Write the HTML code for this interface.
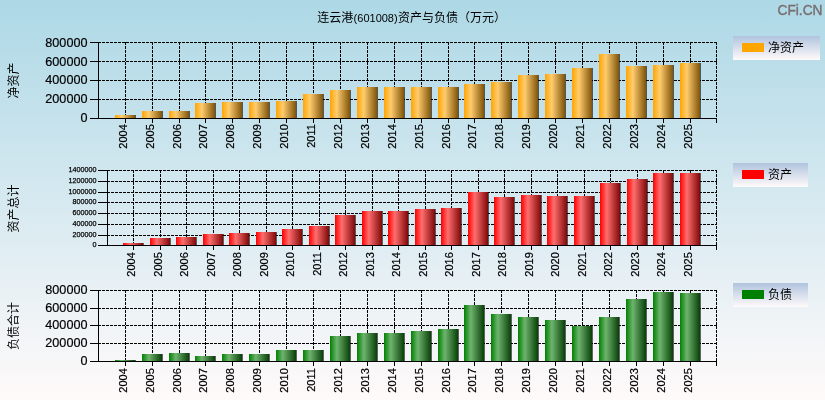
<!DOCTYPE html>
<html lang="zh-CN"><head><meta charset="utf-8"><title>连云港(601008)资产与负债（万元）</title>
<style>html,body{margin:0;padding:0;background:#fff;}body{width:825px;height:400px;overflow:hidden;}svg{display:block;}text{font-family:"Liberation Sans", "Noto Sans CJK SC", sans-serif;fill:#000;}.s{stroke:#000;stroke-width:0.25;}.t{stroke:#000;stroke-width:0.2;}.g line{stroke:#000;stroke-width:1;stroke-dasharray:3 1;shape-rendering:crispEdges;}.a line{stroke:#000;stroke-width:1;shape-rendering:crispEdges;}.b rect{shape-rendering:crispEdges;}</style></head><body>
<svg width="825" height="400" viewBox="0 0 825 400">
<defs>
<linearGradient id="bg" x1="0" y1="0" x2="0" y2="1"><stop offset="0" stop-color="#add8e6"/><stop offset="1" stop-color="#fffafa"/></linearGradient>
<linearGradient id="lg" x1="0" y1="0" x2="0" y2="1"><stop offset="0" stop-color="#b0c4de"/><stop offset="1" stop-color="#fffafa"/></linearGradient>
<linearGradient id="gO" x1="0" y1="0" x2="1" y2="0"><stop offset="0" stop-color="#ffa500"/><stop offset="0.34" stop-color="#ffcc6e"/><stop offset="1" stop-color="#80540a"/></linearGradient>
<linearGradient id="gR" x1="0" y1="0" x2="1" y2="0"><stop offset="0" stop-color="#ff0000"/><stop offset="0.34" stop-color="#ff6e6e"/><stop offset="1" stop-color="#800808"/></linearGradient>
<linearGradient id="gG" x1="0" y1="0" x2="1" y2="0"><stop offset="0" stop-color="#008000"/><stop offset="0.34" stop-color="#6eb46e"/><stop offset="1" stop-color="#084008"/></linearGradient>
</defs>
<rect x="0" y="0" width="825" height="400" fill="url(#bg)"/>
<text x="317.3" y="22.3" font-size="12">连云港<tspan font-size="11" dx="0.3">(601008)</tspan><tspan dx="0.3">资产与负债（万元）</tspan></text>
<text x="822.5" y="15" font-size="15.5" text-anchor="end" textLength="45" lengthAdjust="spacingAndGlyphs" style="fill:#787070;stroke:#787070;stroke-width:0.45">CFi.CN</text>
<g class="g">
<line x1="98" y1="99.5" x2="717" y2="99.5"/>
<line x1="98" y1="80.5" x2="717" y2="80.5"/>
<line x1="98" y1="61.5" x2="717" y2="61.5"/>
<line x1="98" y1="42.5" x2="717" y2="42.5"/>
<line x1="125.5" y1="42" x2="125.5" y2="118"/>
<line x1="152.5" y1="42" x2="152.5" y2="118"/>
<line x1="179.5" y1="42" x2="179.5" y2="118"/>
<line x1="205.5" y1="42" x2="205.5" y2="118"/>
<line x1="232.5" y1="42" x2="232.5" y2="118"/>
<line x1="259.5" y1="42" x2="259.5" y2="118"/>
<line x1="286.5" y1="42" x2="286.5" y2="118"/>
<line x1="313.5" y1="42" x2="313.5" y2="118"/>
<line x1="340.5" y1="42" x2="340.5" y2="118"/>
<line x1="367.5" y1="42" x2="367.5" y2="118"/>
<line x1="394.5" y1="42" x2="394.5" y2="118"/>
<line x1="421.5" y1="42" x2="421.5" y2="118"/>
<line x1="448.5" y1="42" x2="448.5" y2="118"/>
<line x1="474.5" y1="42" x2="474.5" y2="118"/>
<line x1="501.5" y1="42" x2="501.5" y2="118"/>
<line x1="528.5" y1="42" x2="528.5" y2="118"/>
<line x1="555.5" y1="42" x2="555.5" y2="118"/>
<line x1="582.5" y1="42" x2="582.5" y2="118"/>
<line x1="609.5" y1="42" x2="609.5" y2="118"/>
<line x1="636.5" y1="42" x2="636.5" y2="118"/>
<line x1="663.5" y1="42" x2="663.5" y2="118"/>
<line x1="690.5" y1="42" x2="690.5" y2="118"/>
<line x1="716.5" y1="42" x2="716.5" y2="118"/>
</g>
<g class="b">
<rect x="135" y="115" width="1" height="3" fill="#000" fill-opacity="0.6"/>
<rect x="115" y="115" width="20" height="3" fill="url(#gO)"/>
<rect x="162" y="111" width="1" height="7" fill="#000" fill-opacity="0.6"/>
<rect x="142" y="111" width="20" height="7" fill="url(#gO)"/>
<rect x="189" y="111" width="1" height="7" fill="#000" fill-opacity="0.6"/>
<rect x="169" y="111" width="20" height="7" fill="url(#gO)"/>
<rect x="215" y="103" width="1" height="15" fill="#000" fill-opacity="0.6"/>
<rect x="195" y="103" width="20" height="15" fill="url(#gO)"/>
<rect x="242" y="102" width="1" height="16" fill="#000" fill-opacity="0.6"/>
<rect x="222" y="102" width="20" height="16" fill="url(#gO)"/>
<rect x="269" y="102" width="1" height="16" fill="#000" fill-opacity="0.6"/>
<rect x="249" y="102" width="20" height="16" fill="url(#gO)"/>
<rect x="296" y="101" width="1" height="17" fill="#000" fill-opacity="0.6"/>
<rect x="276" y="101" width="20" height="17" fill="url(#gO)"/>
<rect x="323" y="94" width="1" height="24" fill="#000" fill-opacity="0.6"/>
<rect x="303" y="94" width="20" height="24" fill="url(#gO)"/>
<rect x="350" y="90" width="1" height="28" fill="#000" fill-opacity="0.6"/>
<rect x="330" y="90" width="20" height="28" fill="url(#gO)"/>
<rect x="377" y="87" width="1" height="31" fill="#000" fill-opacity="0.6"/>
<rect x="357" y="87" width="20" height="31" fill="url(#gO)"/>
<rect x="404" y="87" width="1" height="31" fill="#000" fill-opacity="0.6"/>
<rect x="384" y="87" width="20" height="31" fill="url(#gO)"/>
<rect x="431" y="87" width="1" height="31" fill="#000" fill-opacity="0.6"/>
<rect x="411" y="87" width="20" height="31" fill="url(#gO)"/>
<rect x="458" y="87" width="1" height="31" fill="#000" fill-opacity="0.6"/>
<rect x="438" y="87" width="20" height="31" fill="url(#gO)"/>
<rect x="484" y="84" width="1" height="34" fill="#000" fill-opacity="0.6"/>
<rect x="464" y="84" width="20" height="34" fill="url(#gO)"/>
<rect x="511" y="82" width="1" height="36" fill="#000" fill-opacity="0.6"/>
<rect x="491" y="82" width="20" height="36" fill="url(#gO)"/>
<rect x="538" y="75" width="1" height="43" fill="#000" fill-opacity="0.6"/>
<rect x="518" y="75" width="20" height="43" fill="url(#gO)"/>
<rect x="565" y="74" width="1" height="44" fill="#000" fill-opacity="0.6"/>
<rect x="545" y="74" width="20" height="44" fill="url(#gO)"/>
<rect x="592" y="68" width="1" height="50" fill="#000" fill-opacity="0.6"/>
<rect x="572" y="68" width="20" height="50" fill="url(#gO)"/>
<rect x="619" y="54" width="1" height="64" fill="#000" fill-opacity="0.6"/>
<rect x="599" y="54" width="20" height="64" fill="url(#gO)"/>
<rect x="646" y="66" width="1" height="52" fill="#000" fill-opacity="0.6"/>
<rect x="626" y="66" width="20" height="52" fill="url(#gO)"/>
<rect x="673" y="65" width="1" height="53" fill="#000" fill-opacity="0.6"/>
<rect x="653" y="65" width="20" height="53" fill="url(#gO)"/>
<rect x="700" y="63" width="1" height="55" fill="#000" fill-opacity="0.6"/>
<rect x="680" y="63" width="20" height="55" fill="url(#gO)"/>
</g>
<g class="a">
<line x1="98.5" y1="42" x2="98.5" y2="119"/>
<line x1="90" y1="118.5" x2="717" y2="118.5"/>
<line x1="90" y1="118.5" x2="99" y2="118.5"/>
<line x1="90" y1="99.5" x2="99" y2="99.5"/>
<line x1="90" y1="80.5" x2="99" y2="80.5"/>
<line x1="90" y1="61.5" x2="99" y2="61.5"/>
<line x1="90" y1="42.5" x2="99" y2="42.5"/>
<line x1="125.5" y1="118" x2="125.5" y2="123"/>
<line x1="152.5" y1="118" x2="152.5" y2="123"/>
<line x1="179.5" y1="118" x2="179.5" y2="123"/>
<line x1="205.5" y1="118" x2="205.5" y2="123"/>
<line x1="232.5" y1="118" x2="232.5" y2="123"/>
<line x1="259.5" y1="118" x2="259.5" y2="123"/>
<line x1="286.5" y1="118" x2="286.5" y2="123"/>
<line x1="313.5" y1="118" x2="313.5" y2="123"/>
<line x1="340.5" y1="118" x2="340.5" y2="123"/>
<line x1="367.5" y1="118" x2="367.5" y2="123"/>
<line x1="394.5" y1="118" x2="394.5" y2="123"/>
<line x1="421.5" y1="118" x2="421.5" y2="123"/>
<line x1="448.5" y1="118" x2="448.5" y2="123"/>
<line x1="474.5" y1="118" x2="474.5" y2="123"/>
<line x1="501.5" y1="118" x2="501.5" y2="123"/>
<line x1="528.5" y1="118" x2="528.5" y2="123"/>
<line x1="555.5" y1="118" x2="555.5" y2="123"/>
<line x1="582.5" y1="118" x2="582.5" y2="123"/>
<line x1="609.5" y1="118" x2="609.5" y2="123"/>
<line x1="636.5" y1="118" x2="636.5" y2="123"/>
<line x1="663.5" y1="118" x2="663.5" y2="123"/>
<line x1="690.5" y1="118" x2="690.5" y2="123"/>
<line x1="716.5" y1="118" x2="716.5" y2="123"/>
</g>
<text class="t" x="87.5" y="121.7" font-size="13" text-anchor="end" textLength="7.0" lengthAdjust="spacingAndGlyphs">0</text>
<text class="t" x="87.5" y="103.0" font-size="13" text-anchor="end" textLength="42.2" lengthAdjust="spacingAndGlyphs">200000</text>
<text class="t" x="87.5" y="84.2" font-size="13" text-anchor="end" textLength="42.2" lengthAdjust="spacingAndGlyphs">400000</text>
<text class="t" x="87.5" y="65.5" font-size="13" text-anchor="end" textLength="42.2" lengthAdjust="spacingAndGlyphs">600000</text>
<text class="t" x="87.5" y="46.7" font-size="13" text-anchor="end" textLength="42.2" lengthAdjust="spacingAndGlyphs">800000</text>
<text class="t" transform="translate(127.1,124.2) rotate(-90)" font-size="11" text-anchor="end">2004</text>
<text class="t" transform="translate(154.1,124.2) rotate(-90)" font-size="11" text-anchor="end">2005</text>
<text class="t" transform="translate(181.1,124.2) rotate(-90)" font-size="11" text-anchor="end">2006</text>
<text class="t" transform="translate(207.1,124.2) rotate(-90)" font-size="11" text-anchor="end">2007</text>
<text class="t" transform="translate(234.1,124.2) rotate(-90)" font-size="11" text-anchor="end">2008</text>
<text class="t" transform="translate(261.1,124.2) rotate(-90)" font-size="11" text-anchor="end">2009</text>
<text class="t" transform="translate(288.1,124.2) rotate(-90)" font-size="11" text-anchor="end">2010</text>
<text class="t" transform="translate(315.1,124.2) rotate(-90)" font-size="11" text-anchor="end">2011</text>
<text class="t" transform="translate(342.1,124.2) rotate(-90)" font-size="11" text-anchor="end">2012</text>
<text class="t" transform="translate(369.1,124.2) rotate(-90)" font-size="11" text-anchor="end">2013</text>
<text class="t" transform="translate(396.1,124.2) rotate(-90)" font-size="11" text-anchor="end">2014</text>
<text class="t" transform="translate(423.1,124.2) rotate(-90)" font-size="11" text-anchor="end">2015</text>
<text class="t" transform="translate(450.1,124.2) rotate(-90)" font-size="11" text-anchor="end">2016</text>
<text class="t" transform="translate(476.1,124.2) rotate(-90)" font-size="11" text-anchor="end">2017</text>
<text class="t" transform="translate(503.1,124.2) rotate(-90)" font-size="11" text-anchor="end">2018</text>
<text class="t" transform="translate(530.1,124.2) rotate(-90)" font-size="11" text-anchor="end">2019</text>
<text class="t" transform="translate(557.1,124.2) rotate(-90)" font-size="11" text-anchor="end">2020</text>
<text class="t" transform="translate(584.1,124.2) rotate(-90)" font-size="11" text-anchor="end">2021</text>
<text class="t" transform="translate(611.1,124.2) rotate(-90)" font-size="11" text-anchor="end">2022</text>
<text class="t" transform="translate(638.1,124.2) rotate(-90)" font-size="11" text-anchor="end">2023</text>
<text class="t" transform="translate(665.1,124.2) rotate(-90)" font-size="11" text-anchor="end">2024</text>
<text class="t" transform="translate(692.1,124.2) rotate(-90)" font-size="11" text-anchor="end">2025</text>
<text transform="translate(17.5,80.5) rotate(-90)" font-size="12" text-anchor="middle">净资产</text>
<rect x="733" y="36" width="87" height="24" fill="url(#lg)"/>
<rect x="742" y="43" width="22" height="9" fill="#ffa500"/>
<text x="768" y="51.6" font-size="12">净资产</text>
<g class="g">
<line x1="107" y1="235.5" x2="717" y2="235.5"/>
<line x1="107" y1="224.5" x2="717" y2="224.5"/>
<line x1="107" y1="213.5" x2="717" y2="213.5"/>
<line x1="107" y1="202.5" x2="717" y2="202.5"/>
<line x1="107" y1="192.5" x2="717" y2="192.5"/>
<line x1="107" y1="181.5" x2="717" y2="181.5"/>
<line x1="107" y1="170.5" x2="717" y2="170.5"/>
<line x1="133.5" y1="170" x2="133.5" y2="245"/>
<line x1="160.5" y1="170" x2="160.5" y2="245"/>
<line x1="186.5" y1="170" x2="186.5" y2="245"/>
<line x1="213.5" y1="170" x2="213.5" y2="245"/>
<line x1="239.5" y1="170" x2="239.5" y2="245"/>
<line x1="266.5" y1="170" x2="266.5" y2="245"/>
<line x1="292.5" y1="170" x2="292.5" y2="245"/>
<line x1="319.5" y1="170" x2="319.5" y2="245"/>
<line x1="345.5" y1="170" x2="345.5" y2="245"/>
<line x1="372.5" y1="170" x2="372.5" y2="245"/>
<line x1="398.5" y1="170" x2="398.5" y2="245"/>
<line x1="425.5" y1="170" x2="425.5" y2="245"/>
<line x1="451.5" y1="170" x2="451.5" y2="245"/>
<line x1="478.5" y1="170" x2="478.5" y2="245"/>
<line x1="504.5" y1="170" x2="504.5" y2="245"/>
<line x1="531.5" y1="170" x2="531.5" y2="245"/>
<line x1="557.5" y1="170" x2="557.5" y2="245"/>
<line x1="584.5" y1="170" x2="584.5" y2="245"/>
<line x1="610.5" y1="170" x2="610.5" y2="245"/>
<line x1="637.5" y1="170" x2="637.5" y2="245"/>
<line x1="663.5" y1="170" x2="663.5" y2="245"/>
<line x1="690.5" y1="170" x2="690.5" y2="245"/>
<line x1="716.5" y1="170" x2="716.5" y2="245"/>
</g>
<g class="b">
<rect x="143" y="243" width="1" height="2" fill="#000" fill-opacity="0.6"/>
<rect x="123" y="243" width="20" height="2" fill="url(#gR)"/>
<rect x="170" y="238" width="1" height="7" fill="#000" fill-opacity="0.6"/>
<rect x="150" y="238" width="20" height="7" fill="url(#gR)"/>
<rect x="196" y="237" width="1" height="8" fill="#000" fill-opacity="0.6"/>
<rect x="176" y="237" width="20" height="8" fill="url(#gR)"/>
<rect x="223" y="234" width="1" height="11" fill="#000" fill-opacity="0.6"/>
<rect x="203" y="234" width="20" height="11" fill="url(#gR)"/>
<rect x="249" y="233" width="1" height="12" fill="#000" fill-opacity="0.6"/>
<rect x="229" y="233" width="20" height="12" fill="url(#gR)"/>
<rect x="276" y="232" width="1" height="13" fill="#000" fill-opacity="0.6"/>
<rect x="256" y="232" width="20" height="13" fill="url(#gR)"/>
<rect x="302" y="229" width="1" height="16" fill="#000" fill-opacity="0.6"/>
<rect x="282" y="229" width="20" height="16" fill="url(#gR)"/>
<rect x="329" y="226" width="1" height="19" fill="#000" fill-opacity="0.6"/>
<rect x="309" y="226" width="20" height="19" fill="url(#gR)"/>
<rect x="355" y="215" width="1" height="30" fill="#000" fill-opacity="0.6"/>
<rect x="335" y="215" width="20" height="30" fill="url(#gR)"/>
<rect x="382" y="211" width="1" height="34" fill="#000" fill-opacity="0.6"/>
<rect x="362" y="211" width="20" height="34" fill="url(#gR)"/>
<rect x="408" y="211" width="1" height="34" fill="#000" fill-opacity="0.6"/>
<rect x="388" y="211" width="20" height="34" fill="url(#gR)"/>
<rect x="435" y="209" width="1" height="36" fill="#000" fill-opacity="0.6"/>
<rect x="415" y="209" width="20" height="36" fill="url(#gR)"/>
<rect x="461" y="208" width="1" height="37" fill="#000" fill-opacity="0.6"/>
<rect x="441" y="208" width="20" height="37" fill="url(#gR)"/>
<rect x="488" y="192" width="1" height="53" fill="#000" fill-opacity="0.6"/>
<rect x="468" y="192" width="20" height="53" fill="url(#gR)"/>
<rect x="514" y="197" width="1" height="48" fill="#000" fill-opacity="0.6"/>
<rect x="494" y="197" width="20" height="48" fill="url(#gR)"/>
<rect x="541" y="195" width="1" height="50" fill="#000" fill-opacity="0.6"/>
<rect x="521" y="195" width="20" height="50" fill="url(#gR)"/>
<rect x="567" y="196" width="1" height="49" fill="#000" fill-opacity="0.6"/>
<rect x="547" y="196" width="20" height="49" fill="url(#gR)"/>
<rect x="594" y="196" width="1" height="49" fill="#000" fill-opacity="0.6"/>
<rect x="574" y="196" width="20" height="49" fill="url(#gR)"/>
<rect x="620" y="183" width="1" height="62" fill="#000" fill-opacity="0.6"/>
<rect x="600" y="183" width="20" height="62" fill="url(#gR)"/>
<rect x="647" y="179" width="1" height="66" fill="#000" fill-opacity="0.6"/>
<rect x="627" y="179" width="20" height="66" fill="url(#gR)"/>
<rect x="673" y="173" width="1" height="72" fill="#000" fill-opacity="0.6"/>
<rect x="653" y="173" width="20" height="72" fill="url(#gR)"/>
<rect x="700" y="173" width="1" height="72" fill="#000" fill-opacity="0.6"/>
<rect x="680" y="173" width="20" height="72" fill="url(#gR)"/>
</g>
<g class="a">
<line x1="107.5" y1="170" x2="107.5" y2="246"/>
<line x1="98" y1="245.5" x2="717" y2="245.5"/>
<line x1="98" y1="245.5" x2="108" y2="245.5"/>
<line x1="98" y1="235.5" x2="108" y2="235.5"/>
<line x1="98" y1="224.5" x2="108" y2="224.5"/>
<line x1="98" y1="213.5" x2="108" y2="213.5"/>
<line x1="98" y1="202.5" x2="108" y2="202.5"/>
<line x1="98" y1="192.5" x2="108" y2="192.5"/>
<line x1="98" y1="181.5" x2="108" y2="181.5"/>
<line x1="98" y1="170.5" x2="108" y2="170.5"/>
<line x1="133.5" y1="245" x2="133.5" y2="250"/>
<line x1="160.5" y1="245" x2="160.5" y2="250"/>
<line x1="186.5" y1="245" x2="186.5" y2="250"/>
<line x1="213.5" y1="245" x2="213.5" y2="250"/>
<line x1="239.5" y1="245" x2="239.5" y2="250"/>
<line x1="266.5" y1="245" x2="266.5" y2="250"/>
<line x1="292.5" y1="245" x2="292.5" y2="250"/>
<line x1="319.5" y1="245" x2="319.5" y2="250"/>
<line x1="345.5" y1="245" x2="345.5" y2="250"/>
<line x1="372.5" y1="245" x2="372.5" y2="250"/>
<line x1="398.5" y1="245" x2="398.5" y2="250"/>
<line x1="425.5" y1="245" x2="425.5" y2="250"/>
<line x1="451.5" y1="245" x2="451.5" y2="250"/>
<line x1="478.5" y1="245" x2="478.5" y2="250"/>
<line x1="504.5" y1="245" x2="504.5" y2="250"/>
<line x1="531.5" y1="245" x2="531.5" y2="250"/>
<line x1="557.5" y1="245" x2="557.5" y2="250"/>
<line x1="584.5" y1="245" x2="584.5" y2="250"/>
<line x1="610.5" y1="245" x2="610.5" y2="250"/>
<line x1="637.5" y1="245" x2="637.5" y2="250"/>
<line x1="663.5" y1="245" x2="663.5" y2="250"/>
<line x1="690.5" y1="245" x2="690.5" y2="250"/>
<line x1="716.5" y1="245" x2="716.5" y2="250"/>
</g>
<text class="s" x="96.5" y="246.5" font-size="8" text-anchor="end" textLength="4" lengthAdjust="spacingAndGlyphs">0</text>
<text class="s" x="96.5" y="236.5" font-size="8" text-anchor="end" textLength="24" lengthAdjust="spacingAndGlyphs">200000</text>
<text class="s" x="96.5" y="225.5" font-size="8" text-anchor="end" textLength="24" lengthAdjust="spacingAndGlyphs">400000</text>
<text class="s" x="96.5" y="214.5" font-size="8" text-anchor="end" textLength="24" lengthAdjust="spacingAndGlyphs">600000</text>
<text class="s" x="96.5" y="203.5" font-size="8" text-anchor="end" textLength="24" lengthAdjust="spacingAndGlyphs">800000</text>
<text class="s" x="96.5" y="193.5" font-size="8" text-anchor="end" textLength="28" lengthAdjust="spacingAndGlyphs">1000000</text>
<text class="s" x="96.5" y="182.5" font-size="8" text-anchor="end" textLength="28" lengthAdjust="spacingAndGlyphs">1200000</text>
<text class="s" x="96.5" y="171.5" font-size="8" text-anchor="end" textLength="28" lengthAdjust="spacingAndGlyphs">1400000</text>
<text class="t" transform="translate(135.1,252.2) rotate(-90)" font-size="11" text-anchor="end">2004</text>
<text class="t" transform="translate(162.1,252.2) rotate(-90)" font-size="11" text-anchor="end">2005</text>
<text class="t" transform="translate(188.1,252.2) rotate(-90)" font-size="11" text-anchor="end">2006</text>
<text class="t" transform="translate(215.1,252.2) rotate(-90)" font-size="11" text-anchor="end">2007</text>
<text class="t" transform="translate(241.1,252.2) rotate(-90)" font-size="11" text-anchor="end">2008</text>
<text class="t" transform="translate(268.1,252.2) rotate(-90)" font-size="11" text-anchor="end">2009</text>
<text class="t" transform="translate(294.1,252.2) rotate(-90)" font-size="11" text-anchor="end">2010</text>
<text class="t" transform="translate(321.1,252.2) rotate(-90)" font-size="11" text-anchor="end">2011</text>
<text class="t" transform="translate(347.1,252.2) rotate(-90)" font-size="11" text-anchor="end">2012</text>
<text class="t" transform="translate(374.1,252.2) rotate(-90)" font-size="11" text-anchor="end">2013</text>
<text class="t" transform="translate(400.1,252.2) rotate(-90)" font-size="11" text-anchor="end">2014</text>
<text class="t" transform="translate(427.1,252.2) rotate(-90)" font-size="11" text-anchor="end">2015</text>
<text class="t" transform="translate(453.1,252.2) rotate(-90)" font-size="11" text-anchor="end">2016</text>
<text class="t" transform="translate(480.1,252.2) rotate(-90)" font-size="11" text-anchor="end">2017</text>
<text class="t" transform="translate(506.1,252.2) rotate(-90)" font-size="11" text-anchor="end">2018</text>
<text class="t" transform="translate(533.1,252.2) rotate(-90)" font-size="11" text-anchor="end">2019</text>
<text class="t" transform="translate(559.1,252.2) rotate(-90)" font-size="11" text-anchor="end">2020</text>
<text class="t" transform="translate(586.1,252.2) rotate(-90)" font-size="11" text-anchor="end">2021</text>
<text class="t" transform="translate(612.1,252.2) rotate(-90)" font-size="11" text-anchor="end">2022</text>
<text class="t" transform="translate(639.1,252.2) rotate(-90)" font-size="11" text-anchor="end">2023</text>
<text class="t" transform="translate(665.1,252.2) rotate(-90)" font-size="11" text-anchor="end">2024</text>
<text class="t" transform="translate(692.1,252.2) rotate(-90)" font-size="11" text-anchor="end">2025</text>
<text transform="translate(17.5,208.5) rotate(-90)" font-size="12" text-anchor="middle">资产总计</text>
<rect x="733" y="163" width="75" height="24" fill="url(#lg)"/>
<rect x="742" y="170" width="22" height="9" fill="#ff0000"/>
<text x="768" y="178.6" font-size="12">资产</text>
<g class="g">
<line x1="98" y1="343.5" x2="717" y2="343.5"/>
<line x1="98" y1="325.5" x2="717" y2="325.5"/>
<line x1="98" y1="308.5" x2="717" y2="308.5"/>
<line x1="98" y1="290.5" x2="717" y2="290.5"/>
<line x1="125.5" y1="290" x2="125.5" y2="361"/>
<line x1="152.5" y1="290" x2="152.5" y2="361"/>
<line x1="179.5" y1="290" x2="179.5" y2="361"/>
<line x1="205.5" y1="290" x2="205.5" y2="361"/>
<line x1="232.5" y1="290" x2="232.5" y2="361"/>
<line x1="259.5" y1="290" x2="259.5" y2="361"/>
<line x1="286.5" y1="290" x2="286.5" y2="361"/>
<line x1="313.5" y1="290" x2="313.5" y2="361"/>
<line x1="340.5" y1="290" x2="340.5" y2="361"/>
<line x1="367.5" y1="290" x2="367.5" y2="361"/>
<line x1="394.5" y1="290" x2="394.5" y2="361"/>
<line x1="421.5" y1="290" x2="421.5" y2="361"/>
<line x1="448.5" y1="290" x2="448.5" y2="361"/>
<line x1="474.5" y1="290" x2="474.5" y2="361"/>
<line x1="501.5" y1="290" x2="501.5" y2="361"/>
<line x1="528.5" y1="290" x2="528.5" y2="361"/>
<line x1="555.5" y1="290" x2="555.5" y2="361"/>
<line x1="582.5" y1="290" x2="582.5" y2="361"/>
<line x1="609.5" y1="290" x2="609.5" y2="361"/>
<line x1="636.5" y1="290" x2="636.5" y2="361"/>
<line x1="663.5" y1="290" x2="663.5" y2="361"/>
<line x1="690.5" y1="290" x2="690.5" y2="361"/>
<line x1="716.5" y1="290" x2="716.5" y2="361"/>
</g>
<g class="b">
<rect x="135" y="360" width="1" height="1" fill="#000" fill-opacity="0.6"/>
<rect x="115" y="360" width="20" height="1" fill="url(#gG)"/>
<rect x="162" y="354" width="1" height="7" fill="#000" fill-opacity="0.6"/>
<rect x="142" y="354" width="20" height="7" fill="url(#gG)"/>
<rect x="189" y="353" width="1" height="8" fill="#000" fill-opacity="0.6"/>
<rect x="169" y="353" width="20" height="8" fill="url(#gG)"/>
<rect x="215" y="356" width="1" height="5" fill="#000" fill-opacity="0.6"/>
<rect x="195" y="356" width="20" height="5" fill="url(#gG)"/>
<rect x="242" y="354" width="1" height="7" fill="#000" fill-opacity="0.6"/>
<rect x="222" y="354" width="20" height="7" fill="url(#gG)"/>
<rect x="269" y="354" width="1" height="7" fill="#000" fill-opacity="0.6"/>
<rect x="249" y="354" width="20" height="7" fill="url(#gG)"/>
<rect x="296" y="350" width="1" height="11" fill="#000" fill-opacity="0.6"/>
<rect x="276" y="350" width="20" height="11" fill="url(#gG)"/>
<rect x="323" y="350" width="1" height="11" fill="#000" fill-opacity="0.6"/>
<rect x="303" y="350" width="20" height="11" fill="url(#gG)"/>
<rect x="350" y="336" width="1" height="25" fill="#000" fill-opacity="0.6"/>
<rect x="330" y="336" width="20" height="25" fill="url(#gG)"/>
<rect x="377" y="333" width="1" height="28" fill="#000" fill-opacity="0.6"/>
<rect x="357" y="333" width="20" height="28" fill="url(#gG)"/>
<rect x="404" y="333" width="1" height="28" fill="#000" fill-opacity="0.6"/>
<rect x="384" y="333" width="20" height="28" fill="url(#gG)"/>
<rect x="431" y="331" width="1" height="30" fill="#000" fill-opacity="0.6"/>
<rect x="411" y="331" width="20" height="30" fill="url(#gG)"/>
<rect x="458" y="329" width="1" height="32" fill="#000" fill-opacity="0.6"/>
<rect x="438" y="329" width="20" height="32" fill="url(#gG)"/>
<rect x="484" y="305" width="1" height="56" fill="#000" fill-opacity="0.6"/>
<rect x="464" y="305" width="20" height="56" fill="url(#gG)"/>
<rect x="511" y="314" width="1" height="47" fill="#000" fill-opacity="0.6"/>
<rect x="491" y="314" width="20" height="47" fill="url(#gG)"/>
<rect x="538" y="317" width="1" height="44" fill="#000" fill-opacity="0.6"/>
<rect x="518" y="317" width="20" height="44" fill="url(#gG)"/>
<rect x="565" y="320" width="1" height="41" fill="#000" fill-opacity="0.6"/>
<rect x="545" y="320" width="20" height="41" fill="url(#gG)"/>
<rect x="592" y="326" width="1" height="35" fill="#000" fill-opacity="0.6"/>
<rect x="572" y="326" width="20" height="35" fill="url(#gG)"/>
<rect x="619" y="317" width="1" height="44" fill="#000" fill-opacity="0.6"/>
<rect x="599" y="317" width="20" height="44" fill="url(#gG)"/>
<rect x="646" y="299" width="1" height="62" fill="#000" fill-opacity="0.6"/>
<rect x="626" y="299" width="20" height="62" fill="url(#gG)"/>
<rect x="673" y="292" width="1" height="69" fill="#000" fill-opacity="0.6"/>
<rect x="653" y="292" width="20" height="69" fill="url(#gG)"/>
<rect x="700" y="293" width="1" height="68" fill="#000" fill-opacity="0.6"/>
<rect x="680" y="293" width="20" height="68" fill="url(#gG)"/>
</g>
<g class="a">
<line x1="98.5" y1="290" x2="98.5" y2="362"/>
<line x1="90" y1="361.5" x2="717" y2="361.5"/>
<line x1="90" y1="361.5" x2="99" y2="361.5"/>
<line x1="90" y1="343.5" x2="99" y2="343.5"/>
<line x1="90" y1="325.5" x2="99" y2="325.5"/>
<line x1="90" y1="308.5" x2="99" y2="308.5"/>
<line x1="90" y1="290.5" x2="99" y2="290.5"/>
<line x1="125.5" y1="361" x2="125.5" y2="366"/>
<line x1="152.5" y1="361" x2="152.5" y2="366"/>
<line x1="179.5" y1="361" x2="179.5" y2="366"/>
<line x1="205.5" y1="361" x2="205.5" y2="366"/>
<line x1="232.5" y1="361" x2="232.5" y2="366"/>
<line x1="259.5" y1="361" x2="259.5" y2="366"/>
<line x1="286.5" y1="361" x2="286.5" y2="366"/>
<line x1="313.5" y1="361" x2="313.5" y2="366"/>
<line x1="340.5" y1="361" x2="340.5" y2="366"/>
<line x1="367.5" y1="361" x2="367.5" y2="366"/>
<line x1="394.5" y1="361" x2="394.5" y2="366"/>
<line x1="421.5" y1="361" x2="421.5" y2="366"/>
<line x1="448.5" y1="361" x2="448.5" y2="366"/>
<line x1="474.5" y1="361" x2="474.5" y2="366"/>
<line x1="501.5" y1="361" x2="501.5" y2="366"/>
<line x1="528.5" y1="361" x2="528.5" y2="366"/>
<line x1="555.5" y1="361" x2="555.5" y2="366"/>
<line x1="582.5" y1="361" x2="582.5" y2="366"/>
<line x1="609.5" y1="361" x2="609.5" y2="366"/>
<line x1="636.5" y1="361" x2="636.5" y2="366"/>
<line x1="663.5" y1="361" x2="663.5" y2="366"/>
<line x1="690.5" y1="361" x2="690.5" y2="366"/>
<line x1="716.5" y1="361" x2="716.5" y2="366"/>
</g>
<text class="t" x="87.5" y="365.4" font-size="13" text-anchor="end" textLength="7.0" lengthAdjust="spacingAndGlyphs">0</text>
<text class="t" x="87.5" y="347.3" font-size="13" text-anchor="end" textLength="42.2" lengthAdjust="spacingAndGlyphs">200000</text>
<text class="t" x="87.5" y="329.1" font-size="13" text-anchor="end" textLength="42.2" lengthAdjust="spacingAndGlyphs">400000</text>
<text class="t" x="87.5" y="311.8" font-size="13" text-anchor="end" textLength="42.2" lengthAdjust="spacingAndGlyphs">600000</text>
<text class="t" x="87.5" y="293.5" font-size="13" text-anchor="end" textLength="42.2" lengthAdjust="spacingAndGlyphs">800000</text>
<text class="t" transform="translate(127.1,368.2) rotate(-90)" font-size="11" text-anchor="end">2004</text>
<text class="t" transform="translate(154.1,368.2) rotate(-90)" font-size="11" text-anchor="end">2005</text>
<text class="t" transform="translate(181.1,368.2) rotate(-90)" font-size="11" text-anchor="end">2006</text>
<text class="t" transform="translate(207.1,368.2) rotate(-90)" font-size="11" text-anchor="end">2007</text>
<text class="t" transform="translate(234.1,368.2) rotate(-90)" font-size="11" text-anchor="end">2008</text>
<text class="t" transform="translate(261.1,368.2) rotate(-90)" font-size="11" text-anchor="end">2009</text>
<text class="t" transform="translate(288.1,368.2) rotate(-90)" font-size="11" text-anchor="end">2010</text>
<text class="t" transform="translate(315.1,368.2) rotate(-90)" font-size="11" text-anchor="end">2011</text>
<text class="t" transform="translate(342.1,368.2) rotate(-90)" font-size="11" text-anchor="end">2012</text>
<text class="t" transform="translate(369.1,368.2) rotate(-90)" font-size="11" text-anchor="end">2013</text>
<text class="t" transform="translate(396.1,368.2) rotate(-90)" font-size="11" text-anchor="end">2014</text>
<text class="t" transform="translate(423.1,368.2) rotate(-90)" font-size="11" text-anchor="end">2015</text>
<text class="t" transform="translate(450.1,368.2) rotate(-90)" font-size="11" text-anchor="end">2016</text>
<text class="t" transform="translate(476.1,368.2) rotate(-90)" font-size="11" text-anchor="end">2017</text>
<text class="t" transform="translate(503.1,368.2) rotate(-90)" font-size="11" text-anchor="end">2018</text>
<text class="t" transform="translate(530.1,368.2) rotate(-90)" font-size="11" text-anchor="end">2019</text>
<text class="t" transform="translate(557.1,368.2) rotate(-90)" font-size="11" text-anchor="end">2020</text>
<text class="t" transform="translate(584.1,368.2) rotate(-90)" font-size="11" text-anchor="end">2021</text>
<text class="t" transform="translate(611.1,368.2) rotate(-90)" font-size="11" text-anchor="end">2022</text>
<text class="t" transform="translate(638.1,368.2) rotate(-90)" font-size="11" text-anchor="end">2023</text>
<text class="t" transform="translate(665.1,368.2) rotate(-90)" font-size="11" text-anchor="end">2024</text>
<text class="t" transform="translate(692.1,368.2) rotate(-90)" font-size="11" text-anchor="end">2025</text>
<text transform="translate(17.5,326.0) rotate(-90)" font-size="12" text-anchor="middle">负债合计</text>
<rect x="733" y="283" width="75" height="24" fill="url(#lg)"/>
<rect x="742" y="290" width="22" height="9" fill="#008000"/>
<text x="768" y="298.6" font-size="12">负债</text>
</svg></body></html>
